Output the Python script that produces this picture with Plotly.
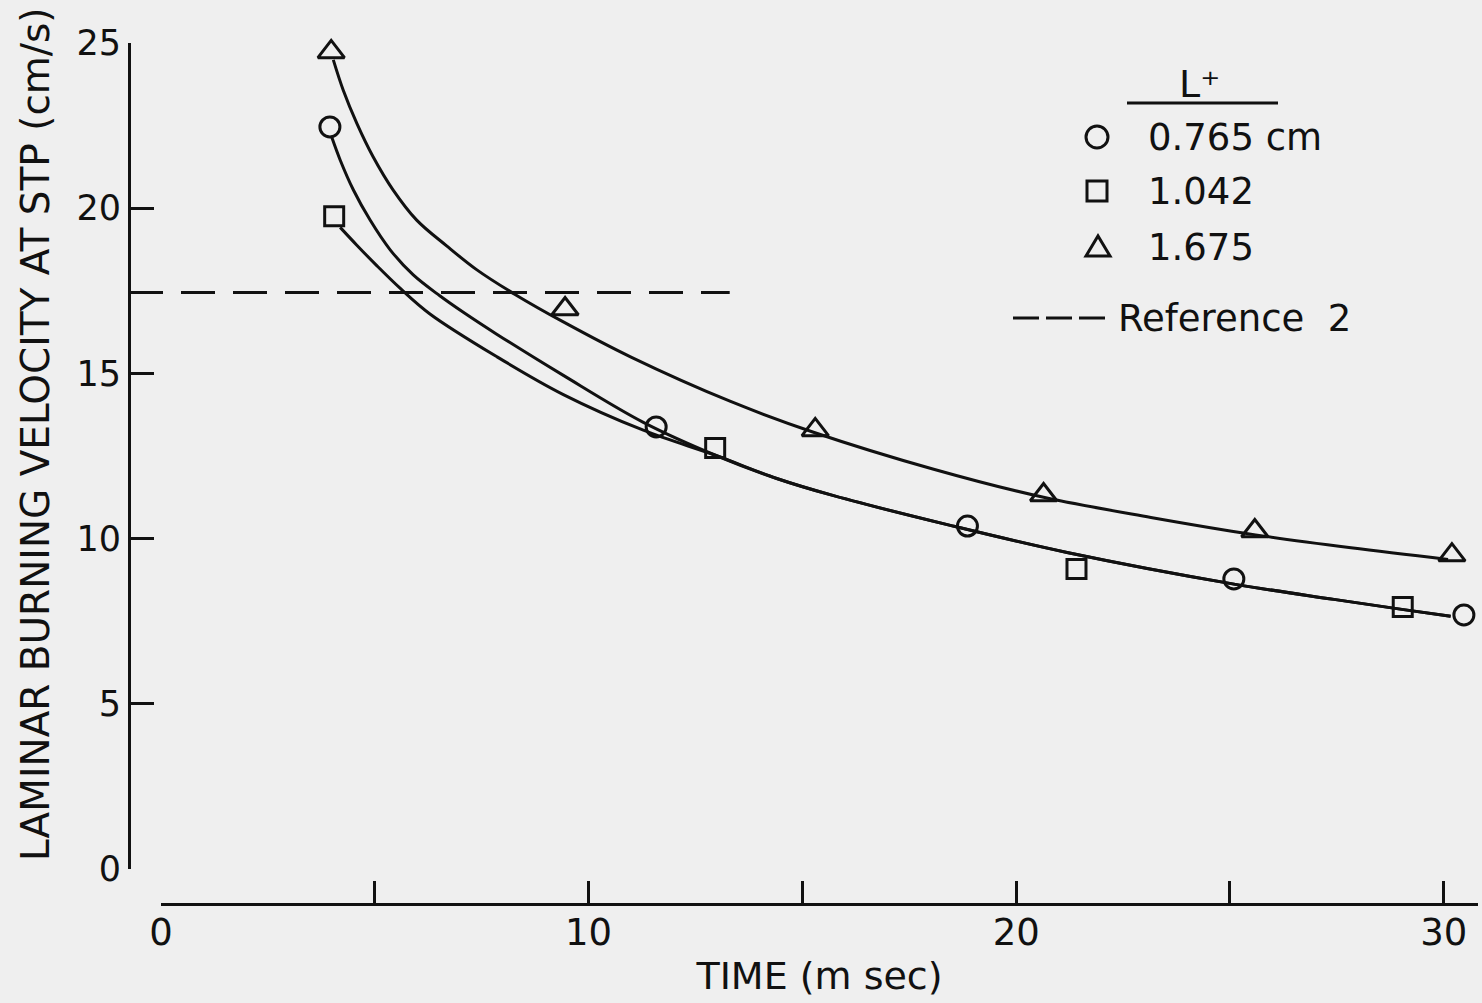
import plotly.graph_objects as go

# ---------------- data ----------------
# measured points: L+ = 0.765 cm (circles), 1.042 (squares), 1.675 (triangles)
time_0765 = [3.95, 11.58, 18.86, 25.09, 30.47]
vel_0765 = [22.46, 13.38, 10.38, 8.78, 7.69]
time_1042 = [4.05, 12.96, 21.41, 29.04]
vel_1042 = [19.76, 12.74, 9.08, 7.93]
time_1675 = [3.98, 9.45, 15.30, 20.64, 25.58, 30.19]
vel_1675 = [24.73, 16.95, 13.29, 11.32, 10.23, 9.50]

# hand-drawn fitted curves
fit_t_0765 = [3.99, 4.19, 4.50, 4.89, 5.36, 5.90, 6.52, 7.07, 7.86, 9.41, 11.28, 13.01,
              14.40, 15.73, 18.46, 21.19, 25.06, 27.43, 29.06, 30.16]
fit_v_0765 = [22.16, 21.46, 20.55, 19.64, 18.74, 17.98, 17.35, 16.85, 16.18, 14.94, 13.52, 12.50,
              11.82, 11.30, 10.40, 9.58, 8.63, 8.16, 7.85, 7.65]
fit_t_1042 = [4.19, 4.58, 5.04, 5.59, 6.29, 7.86, 9.41, 11.28, 13.01,
              14.40, 15.73, 18.46, 21.19, 25.06, 27.43, 29.06, 30.16]
fit_v_1042 = [19.42, 18.88, 18.27, 17.58, 16.80, 15.50, 14.36, 13.28, 12.50,
              11.82, 11.30, 10.40, 9.58, 8.63, 8.16, 7.85, 7.65]
fit_t_1675 = [4.03, 4.26, 4.58, 4.96, 5.43, 5.98, 6.68, 7.38, 8.28, 9.42, 10.98, 13.32,
              15.26, 18.07, 20.64, 23.15, 25.56, 27.83, 30.1]
fit_v_1675 = [24.49, 23.58, 22.57, 21.56, 20.55, 19.64, 18.86, 18.14, 17.39, 16.55, 15.50, 14.15,
              13.22, 12.10, 11.25, 10.64, 10.12, 9.72, 9.37]

# Reference 2 value (dashed line) and where it ends in time
ref2_velocity = 17.45
ref2_time_end = 13.3

# ticks
x_tickvals = [0, 10, 20, 30]
x_ticktext = ["0", "10", "20", "30"]
x_minor_tickvals = [5, 15, 25]
y_tickvals = [0, 5, 10, 15, 20, 25]
y_ticktext = ["0", "5", "10", "15", "20", "25"]

legend_title = "L\u207a"
legend_labels = ["0.765 cm", "1.042", "1.675"]
ref_label = "Reference  2"
x_title = "TIME (m sec)"
y_title = "LAMINAR BURNING VELOCITY AT STP (cm/s)"

# ---------------- layout geometry ----------------
W, H = 1482, 1003
PL, PR, PT, PB = 129, 1478, 43, 904      # plot area in pixels
X_MAX, Y_MAX = 30.8, 25.0
XD0 = (161 - PL) / (PR - PL)             # x axis starts a little right of the y axis
YD0 = (PB - 869) / (PB - PT)             # y axis stops a little above the x axis
x_lo = -XD0 / (1 - XD0) * X_MAX
y_lo = -YD0 / (1 - YD0) * Y_MAX

BG = "#efefef"
INK = "#111111"
FONT = "DejaVu Sans"


def px(p):
    return (p - PL) / (PR - PL)


def py(p):
    return (PB - p) / (PB - PT)


fig = go.Figure()

# dashed Reference 2 line, starting at the y axis
fig.add_trace(go.Scatter(
    x=[x_lo, ref2_time_end], y=[ref2_velocity, ref2_velocity],
    mode="lines", line=dict(color=INK, width=3, dash="34px,18px"),
    xaxis="x", yaxis="y", showlegend=False, hoverinfo="skip"))

# fitted curves
for t, v in [(fit_t_0765, fit_v_0765), (fit_t_1042, fit_v_1042), (fit_t_1675, fit_v_1675)]:
    fig.add_trace(go.Scatter(
        x=t, y=v, mode="lines", line=dict(color=INK, width=3, shape="spline", smoothing=1.0),
        xaxis="x2", yaxis="y2", showlegend=False, hoverinfo="skip"))

# measured points
for t, v, sym, size in [(time_0765, vel_0765, "circle-open", 20),
                        (time_1042, vel_1042, "square-open", 19),
                        (time_1675, vel_1675, "triangle-up-open", 23)]:
    fig.add_trace(go.Scatter(
        x=t, y=v, mode="markers", cliponaxis=False,
        marker=dict(symbol=sym, size=size, color=INK, line=dict(color=INK, width=3)),
        xaxis="x2", yaxis="y2", showlegend=False))

axis_common = dict(showgrid=False, zeroline=False, showline=True, linecolor=INK, linewidth=3,
                   ticks="inside", tickcolor=INK, tickwidth=3, tickmode="array")
hidden_axis = dict(showgrid=False, zeroline=False, showline=False, ticks="",
                   showticklabels=False, fixedrange=True)

# legend (hand-lettered key, as in the figure) and y title
annotations = [
    dict(text=legend_title, x=px(1199), y=py(84), xanchor="center", yanchor="middle", font=dict(size=38)),
    dict(text=legend_labels[0], x=px(1146), y=py(137), xanchor="left", yanchor="middle"),
    dict(text=legend_labels[1], x=px(1146), y=py(191), xanchor="left", yanchor="middle"),
    dict(text=legend_labels[2], x=px(1146), y=py(247), xanchor="left", yanchor="middle"),
    dict(text=ref_label, x=px(1116), y=py(318), xanchor="left", yanchor="middle"),
    dict(text=y_title, x=px(35), y=py(434), xanchor="center", yanchor="middle", textangle=-90,
         font=dict(size=39)),
]
for a in annotations:
    a.update(xref="paper", yref="paper", showarrow=False)
    a.setdefault("font", dict(size=37))
    a["font"].update(family=FONT, color=INK)

key = dict(xref="paper", yref="paper", xsizemode="pixel", ysizemode="pixel",
           line=dict(color=INK, width=3))
shapes = [
    dict(type="line", xref="paper", yref="paper", x0=px(1127), x1=px(1278), y0=py(103), y1=py(103),
         line=dict(color=INK, width=3)),
    dict(type="circle", xanchor=px(1097), yanchor=py(137), x0=-11, x1=11, y0=-11, y1=11, **key),
    dict(type="rect", xanchor=px(1097), yanchor=py(191), x0=-10, x1=10, y0=-10, y1=10, **key),
    dict(type="path", xanchor=px(1098), yanchor=py(247), path="M -12,-9 L 12,-9 L 0,11 Z", **key),
    dict(type="line", xref="paper", yref="paper", x0=px(1013), x1=px(1107), y0=py(318), y1=py(318),
         line=dict(color=INK, width=3, dash="26px,7px")),
]

fig.update_layout(
    width=W, height=H, autosize=False,
    margin=dict(l=PL, r=W - PR, t=PT, b=H - PB, pad=0),
    paper_bgcolor=BG, plot_bgcolor="rgba(0,0,0,0)",
    font=dict(family=FONT, color=INK),
    showlegend=False,
    xaxis=dict(domain=[0, 1], range=[x_lo, X_MAX], anchor="y", **hidden_axis),
    yaxis=dict(domain=[0, 1], range=[y_lo, Y_MAX], anchor="x", **hidden_axis),
    xaxis2=dict(domain=[XD0, 1], range=[0, X_MAX], anchor="free", position=0,
                tickvals=x_tickvals, ticktext=x_ticktext, ticklen=22, ticklabelstandoff=-5,
                minor=dict(tickmode="array", tickvals=x_minor_tickvals, ticks="inside",
                           ticklen=22, tickwidth=3, tickcolor=INK, showgrid=False),
                tickfont=dict(family=FONT, size=37, color=INK),
                title=dict(text=x_title, font=dict(family=FONT, size=38, color=INK), standoff=8),
                **axis_common),
    yaxis2=dict(domain=[YD0, 1], range=[0, Y_MAX], anchor="free", position=0, side="left",
                tickvals=y_tickvals, ticktext=y_ticktext, ticklen=23, ticklabelstandoff=0,
                tickfont=dict(family=FONT, size=35, color=INK),
                **axis_common),
    annotations=annotations,
    shapes=shapes,
)

fig.write_html("out.html", config={"displayModeBar": False},
               post_script="document.body.style.margin='0';")
